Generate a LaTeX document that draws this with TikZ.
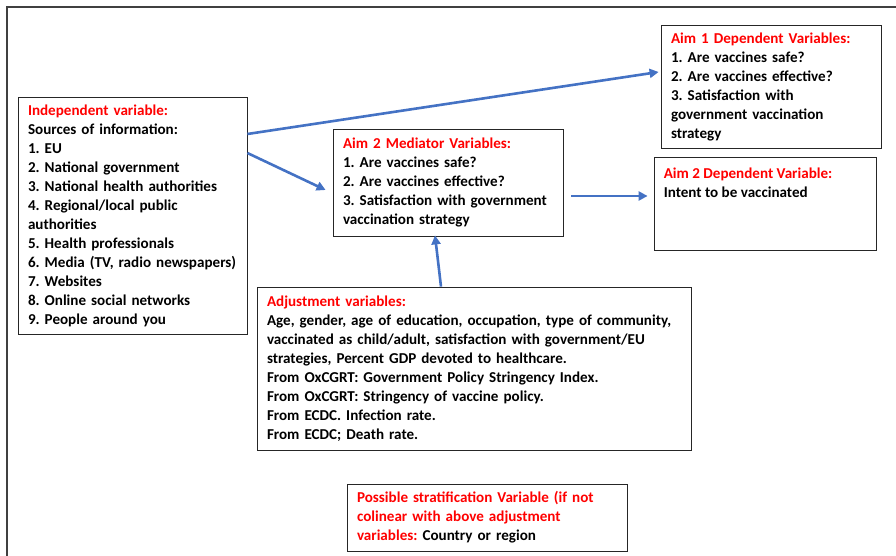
\documentclass[tikz,border=0pt]{standalone}
\usepackage{fontspec}
\setmainfont{Carlito}[BoldFont={Carlito Bold}]
\usepackage{tikz}
\usetikzlibrary{arrows.meta,positioning,calc}
\usepackage{xcolor}
\definecolor{arrblue}{HTML}{4472C4}
\definecolor{framegray}{HTML}{404040}
\frenchspacing

\begin{document}
\begin{tikzpicture}[x=1pt,y=-1pt,
  every node/.style={font=\fontsize{15.1}{19}\selectfont\bfseries,align=left,},%
  bx/.style={draw=black!85,line width=0.8pt,inner xsep=10pt,inner ysep=0pt,},%
  e/.style={-{Triangle[length=9pt,width=9pt]},line width=2.6pt,draw=arrblue,},%
  fr/.style={line width=2.5pt,draw=framegray,},%
  ]
  \useasboundingbox (0,0) rectangle (896,556);
  \draw [fr] (7,556) -- (7,7) -- (896,7);

  \node (indep) [bx,minimum width=229pt,minimum height=237pt,text width=209pt%
  ] at (132.5,216) {\textcolor{red}{Independent variable:}\\
    Sources of information:\\
    1. EU\\
    2. National government\\
    3. National health authorities\\
    4. Regional/local public\\
    authorities\\
    5. Health professionals\\
    6. Media (TV, radio newspapers)\\
    7. Websites\\
    8. Online social networks\\
    9. People around you};

  \node (med) [bx,minimum width=230pt,minimum height=107pt,text width=210pt%
  ] at (448,182.5) {\textcolor{red}{Aim 2 Mediator Variables:}\\
    1. Are vaccines safe?\\
    2. Are vaccines effective?\\
    3. Satisfaction with government\\
    vaccination strategy};

  \node (aimone) [bx,minimum width=220pt,minimum height=123pt,text width=200pt%
  ] at (771,86.5) {\textcolor{red}{Aim 1 Dependent Variables:}\\
    1. Are vaccines safe?\\
    2. Are vaccines effective?\\
    3. Satisfaction with\\
    government vaccination\\
    strategy};

  \node (aimtwo) [bx,minimum width=222pt,minimum height=93pt%
  ] at (765,203.5) {};
  \node (aimtwotxt) [anchor=north west,inner sep=0pt%
  ] at ([shift={(10pt,-11pt)}]aimtwo.north west) {\textcolor{red}{Aim 2 Dependent Variable:}\\
    Intent to be vaccinated};

  \node (adj) [bx,minimum width=434pt,minimum height=163pt,text width=414pt%
  ] at (474,368.5) {\textcolor{red}{Adjustment variables:}\\
    Age, gender, age of education, occupation, type of community,\\
    vaccinated as child/adult, satisfaction with government/EU\\
    strategies, Percent GDP devoted to healthcare.\\
    From OxCGRT: Government Policy Stringency Index.\\
    From OxCGRT: Stringency of vaccine policy.\\
    From ECDC. Infection rate.\\
    From ECDC; Death rate.};

  \node (strat) [bx,minimum width=280pt,minimum height=67pt,text width=260pt%
  ] at (487,517.5) {\textcolor{red}{Possible stratification Variable (if not}\\
    \textcolor{red}{colinear with above adjustment}\\
    \textcolor{red}{variables:} Country or region};

  \draw [e] ([yshift=82pt]indep.east) -- ([shift={(-2pt,14.5pt)}]aimone.west);
  \draw [e] ([yshift=63pt]indep.east) -- ([shift={(-7pt,-7.5pt)}]med.west);
  \draw [e] ([shift={(8pt,-13.5pt)}]med.east) -- ([shift={(-6pt,7.5pt)}]aimtwo.west);
  \draw [e] ([xshift=-33pt]adj.north) -- ([shift={(-13pt,1pt)}]med.south);
\end{tikzpicture}
\end{document}
